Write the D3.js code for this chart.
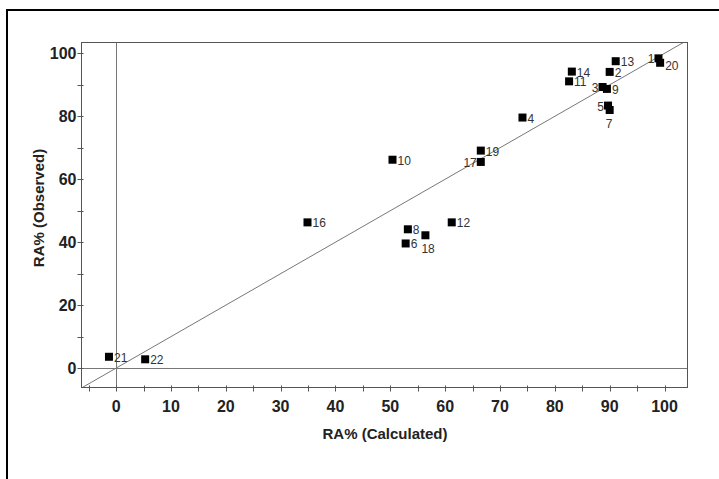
<!DOCTYPE html>
<html>
<head>
<meta charset="utf-8">
<script src="https://cdn.jsdelivr.net/npm/d3@7"></script>
<style>
  body { margin: 0; background: #fff; }
  svg { display: block; font-family: "Liberation Sans", Arial, sans-serif; }
</style>
</head>
<body>
<div class="chart"></div>
<script>
// sample ids, calculated RA% and observed RA%
var ids        = [1, 2, 3, 4, 5, 6, 7, 8, 9, 10, 11, 12, 13, 14, 16, 17, 18, 19, 20, 21, 22];
var calculated = [98.9, 90.0, 88.7, 74.1, 89.7, 52.8, 90.0, 53.2, 89.5, 50.4, 82.6, 61.2, 91.1, 83.1, 34.9, 66.5, 56.4, 66.5, 99.2, -1.3, 5.3];
var observed   = [98.4, 94.1, 89.3, 79.6, 83.4, 39.6, 82.0, 44.1, 88.7, 66.2, 91.1, 46.3, 97.5, 94.2, 46.3, 65.5, 42.2, 69.1, 97.0, 3.6, 2.8];
var xTickLabels = [0, 10, 20, 30, 40, 50, 60, 70, 80, 90, 100];
var yTickLabels = [0, 20, 40, 60, 80, 100];

var width = 719, height = 479;
var pLeft = 81, pRight = 687, pTop = 42, pBottom = 387;

var svg = d3.select(".chart").append("svg")
    .attr("width", width)
    .attr("height", height);

// outer frame (only top/left visible in the picture)
svg.append("rect")
    .attr("x", 7).attr("y", 10)
    .attr("width", 730).attr("height", 490)
    .attr("fill", "none")
    .attr("stroke", "#000")
    .attr("stroke-width", 2);

var x = d3.scaleLinear().domain([-6.4, 104.1]).range([pLeft, pRight]);
var y = d3.scaleLinear().domain([-6.0, 103.6]).range([pBottom, pTop]);

svg.append("clipPath").attr("id", "clip")
  .append("rect")
    .attr("x", pLeft).attr("y", pTop)
    .attr("width", pRight - pLeft).attr("height", pBottom - pTop);

var plot = svg.append("g").attr("clip-path", "url(#clip)");

// zero lines
plot.append("line")
    .attr("x1", Math.round(x(0)) + 0.5).attr("x2", Math.round(x(0)) + 0.5)
    .attr("y1", pTop).attr("y2", pBottom)
    .attr("stroke", "#777").attr("stroke-width", 1);
plot.append("line")
    .attr("x1", pLeft).attr("x2", pRight)
    .attr("y1", Math.round(y(0)) + 0.5).attr("y2", Math.round(y(0)) + 0.5)
    .attr("stroke", "#777").attr("stroke-width", 1);

// 1:1 line
plot.append("line")
    .attr("x1", x(-10)).attr("y1", y(-10))
    .attr("x2", x(110)).attr("y2", y(110))
    .attr("stroke", "#777").attr("stroke-width", 1);

// plot frame
svg.append("rect")
    .attr("x", pLeft + 0.5).attr("y", pTop + 0.5)
    .attr("width", pRight - pLeft).attr("height", pBottom - pTop)
    .attr("fill", "none")
    .attr("stroke", "#555");

// x axis ticks
var xAxis = svg.append("g").attr("transform", "translate(0," + (pBottom + 0.5) + ")");
xAxis.selectAll("line")
    .data(d3.range(-5, 105, 5))
    .enter().append("line")
      .attr("x1", d => Math.round(x(d)) + 0.5)
      .attr("x2", d => Math.round(x(d)) + 0.5)
      .attr("y1", -2).attr("y2", 4)
      .attr("stroke", "#555");
xAxis.selectAll("text")
    .data(xTickLabels)
    .enter().append("text")
      .attr("x", d => x(d))
      .attr("y", 24)
      .attr("text-anchor", "middle")
      .attr("font-size", 16)
      .attr("font-weight", "bold")
      .attr("fill", "#222")
      .text(d => d);

// y axis ticks
var yAxis = svg.append("g").attr("transform", "translate(" + (pLeft + 0.5) + ",0)");
yAxis.selectAll("line")
    .data(d3.range(0, 101, 10))
    .enter().append("line")
      .attr("y1", d => Math.round(y(d)) + 0.5)
      .attr("y2", d => Math.round(y(d)) + 0.5)
      .attr("x1", -4).attr("x2", 2)
      .attr("stroke", "#555");
yAxis.selectAll("text")
    .data(yTickLabels)
    .enter().append("text")
      .attr("x", -5)
      .attr("y", d => y(d) + 6)
      .attr("text-anchor", "end")
      .attr("font-size", 16)
      .attr("font-weight", "bold")
      .attr("fill", "#222")
      .text(d => d);

// axis titles
svg.append("text")
    .attr("x", 385).attr("y", 439)
    .attr("text-anchor", "middle")
    .attr("font-size", 15)
    .attr("font-weight", "bold")
    .attr("fill", "#222")
    .text("RA% (Calculated)");
svg.append("text")
    .attr("transform", "translate(44,208) rotate(-90)")
    .attr("text-anchor", "middle")
    .attr("font-size", 15)
    .attr("font-weight", "bold")
    .attr("fill", "#222")
    .text("RA% (Observed)");

// points
var points = ids.map((id, i) => ({id: id, cx: calculated[i], ob: observed[i]}));

svg.append("g").selectAll("rect")
    .data(points)
    .enter().append("rect")
      .attr("x", d => x(d.cx) - 4)
      .attr("y", d => y(d.ob) - 4)
      .attr("width", 8).attr("height", 8)
      .attr("fill", "#000");

// label placement for crowded points
var labelSide = {1: "left", 3: "left", 5: "left", 17: "left", 7: "below", 18: "below", 20: "low"};

svg.append("g").selectAll("text")
    .data(points)
    .enter().append("text")
      .attr("x", function(d) {
          var s = labelSide[d.id];
          if (s == "left") return x(d.cx) - 4;
          if (s == "below") return x(d.cx) - 4;
          return x(d.cx) + 5;
      })
      .attr("y", function(d) {
          var s = labelSide[d.id];
          if (s == "below") return y(d.ob) + 18;
          if (s == "low") return y(d.ob) + 7;
          return y(d.ob) + 5;
      })
      .attr("text-anchor", d => labelSide[d.id] == "left" ? "end" : "start")
      .attr("font-size", 12)
      .attr("fill", "#333")
      .text(d => d.id);
</script>
</body>
</html>
